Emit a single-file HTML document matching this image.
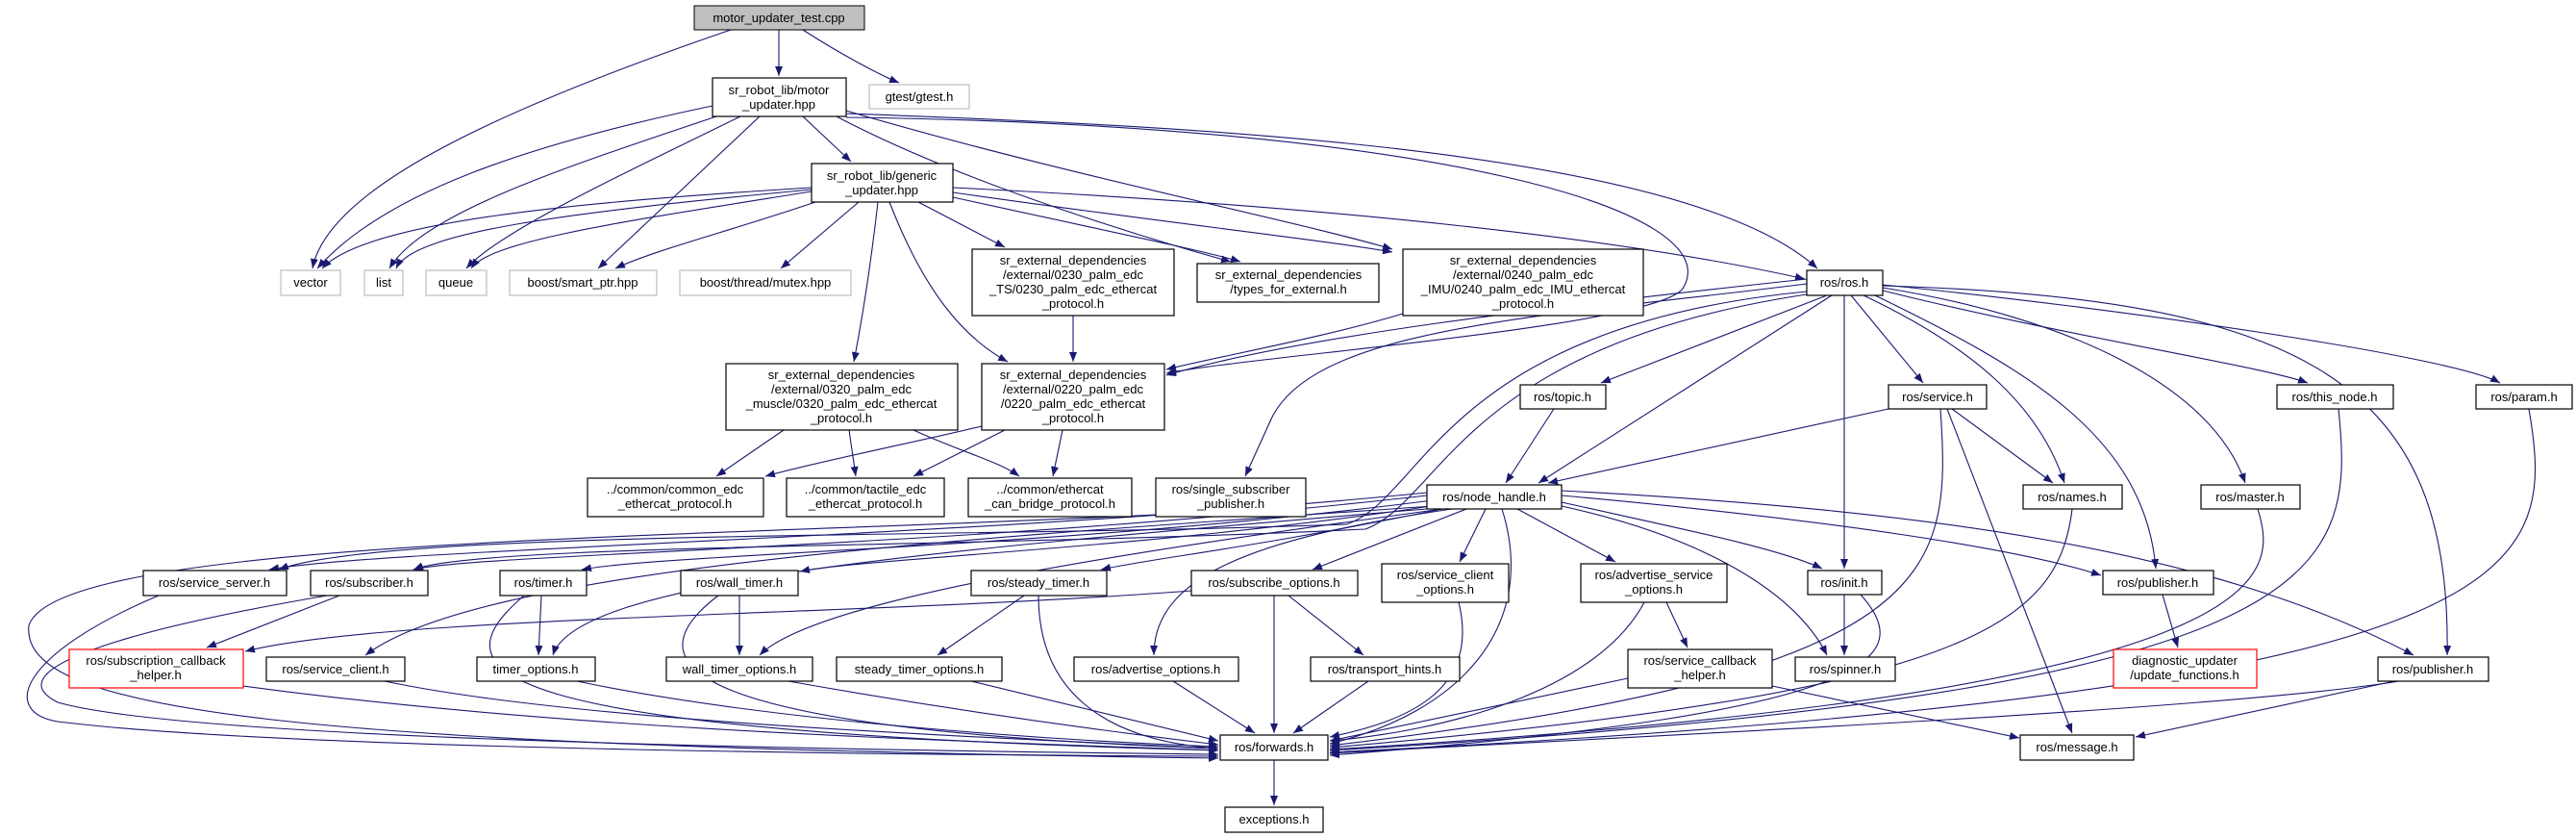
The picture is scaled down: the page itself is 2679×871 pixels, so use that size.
<!DOCTYPE html>
<html><head><meta charset="utf-8"><style>
html,body{margin:0;padding:0;background:#fff;}
svg{display:block;}
text{font-family:"Liberation Sans",sans-serif;font-size:13px;fill:#000;}
.n{fill:#fff;stroke:#000;stroke-width:1.2;}
.g{fill:#fff;stroke:#bfbfbf;stroke-width:1.2;}
.r{fill:#fff;stroke:#ff0000;stroke-width:1.2;}
.e{fill:none;stroke:#191970;stroke-width:1.1;marker-end:url(#a);}
</style></head><body>
<svg width="2679" height="871" viewBox="0 0 2679 871" xmlns="http://www.w3.org/2000/svg">
<defs><marker id="a" markerUnits="userSpaceOnUse" markerWidth="11" markerHeight="8" refX="10" refY="4" orient="auto"><path d="M0,0 L10,4 L0,8 z" fill="#191970"/></marker></defs>
<g>
<path class="e" d="M760 31 C500 120,340 200,325 279"/>
<path class="e" d="M810 31 L810 79"/>
<path class="e" d="M835 31 C880 60,920 80,935 86"/>
<path class="e" d="M741 110 C550 150,400 200,330 279"/>
<path class="e" d="M748 120 C600 170,440 220,405 279"/>
<path class="e" d="M770 121 C650 180,520 240,485 279"/>
<path class="e" d="M790 121 L622 279"/>
<path class="e" d="M835 121 L885 168"/>
<path class="e" d="M870 121 C1000 190,1200 250,1280 272"/>
<path class="e" d="M880 115 C1100 180,1350 230,1448 259"/>
<path class="e" d="M880 118 C1200 130,1750 150,1890 279"/>
<path class="e" d="M880 122 C1500 130,1800 220,1750 300 C1720 340,1300 370,1213 388"/>
<path class="e" d="M844 195 C600 210,380 230,335 279"/>
<path class="e" d="M844 197 C600 220,430 240,412 279"/>
<path class="e" d="M844 199 C650 230,510 250,490 279"/>
<path class="e" d="M848 210 C760 240,680 260,640 279"/>
<path class="e" d="M893 210 L812 279"/>
<path class="e" d="M913 210 C905 280,895 340,888 376"/>
<path class="e" d="M925 210 C960 300,1000 350,1048 376"/>
<path class="e" d="M955 210 L1045 257"/>
<path class="e" d="M991 205 C1150 240,1250 260,1290 272"/>
<path class="e" d="M991 200 C1200 230,1380 250,1448 262"/>
<path class="e" d="M991 195 C1400 215,1700 250,1877 290"/>
<path class="e" d="M1116 328 L1116 376"/>
<path class="e" d="M1459 326 C1380 350,1270 370,1213 384"/>
<path class="e" d="M815 447 L745 495"/>
<path class="e" d="M883 447 L890 495"/>
<path class="e" d="M950 447 C1000 470,1040 480,1060 495"/>
<path class="e" d="M1021 443 C950 460,850 480,796 495"/>
<path class="e" d="M1045 447 L950 495"/>
<path class="e" d="M1105 447 L1095 495"/>
<path class="e" d="M1879 290 C1600 320,1350 350,1213 390"/>
<path class="e" d="M1879 295 C1600 330,1360 340,1320 440 L1295 495"/>
<path class="e" d="M1900 307 L1665 398"/>
<path class="e" d="M1905 307 L1600 502"/>
<path class="e" d="M1925 307 L2000 398"/>
<path class="e" d="M1938 307 C2050 360,2120 420,2147 502"/>
<path class="e" d="M1918 307 L1918 591"/>
<path class="e" d="M1950 307 C2100 380,2230 450,2242 591"/>
<path class="e" d="M1958 299 C2150 330,2300 400,2335 502"/>
<path class="e" d="M1958 302 C2150 350,2350 380,2400 398"/>
<path class="e" d="M1958 296 C2200 320,2550 370,2600 398"/>
<path class="e" d="M1958 297 C2400 310,2550 400,2545 681"/>
<path class="e" d="M1879 303 C1500 340,1480 520,1400 545 C1000 560,400 550,290 592"/>
<path class="e" d="M1879 306 C1520 360,1500 520,1420 550 C1000 570,500 565,430 592"/>
<path class="e" d="M1616 425 L1566 502"/>
<path class="e" d="M1964 425 L1610 502"/>
<path class="e" d="M2030 425 L2135 502"/>
<path class="e" d="M2018 425 C2030 600,2020 700,1383 775"/>
<path class="e" d="M2025 425 L2155 762"/>
<path class="e" d="M2155 529 C2140 650,2050 720,1383 777"/>
<path class="e" d="M2348 529 C2370 600,2380 720,1383 779"/>
<path class="e" d="M2432 425 C2450 600,2430 720,1383 780"/>
<path class="e" d="M2630 425 C2660 600,2640 720,1383 782"/>
<path class="e" d="M2249 618 L2265 673"/>
<path class="e" d="M2495 708 C2300 740,1600 770,1383 783"/>
<path class="e" d="M2490 708 L2221 766"/>
<path class="e" d="M1693 705 L1383 770"/>
<path class="e" d="M1843 713 L2100 767"/>
<path class="e" d="M1918 618 L1918 681"/>
<path class="e" d="M1935 618 C1990 680,1970 740,1383 785"/>
<path class="e" d="M1484 512 C1000 560,400 570,280 592"/>
<path class="e" d="M1484 515 C1000 570,500 575,430 592"/>
<path class="e" d="M1490 520 C1100 570,700 575,605 592"/>
<path class="e" d="M1495 525 C1200 570,900 580,832 594"/>
<path class="e" d="M1500 529 C1300 570,1200 580,1145 592"/>
<path class="e" d="M1525 529 L1365 592"/>
<path class="e" d="M1545 529 L1518 584"/>
<path class="e" d="M1578 529 L1680 584"/>
<path class="e" d="M1562 529 C1600 650,1520 740,1383 773"/>
<path class="e" d="M1624 522 C1750 550,1850 570,1895 591"/>
<path class="e" d="M1624 526 C1780 560,1870 620,1900 681"/>
<path class="e" d="M1624 515 C1900 540,2100 570,2185 598"/>
<path class="e" d="M1624 510 C2000 530,2300 570,2510 681"/>
<path class="e" d="M1490 526 C1000 560,500 590,380 681"/>
<path class="e" d="M1495 528 C1000 570,600 600,575 681"/>
<path class="e" d="M1500 529 C1200 570,850 620,790 681"/>
<path class="e" d="M1510 529 C1300 560,1200 600,1200 681"/>
<path class="e" d="M1239 614 C900 640,400 640,255 677"/>
<path class="e" d="M1325 619 L1325 762"/>
<path class="e" d="M1340 619 L1418 681"/>
<path class="e" d="M353 619 L215 673"/>
<path class="e" d="M340 619 C100 660,0 700,60 730 C200 770,900 780,1267 784"/>
<path class="e" d="M165 619 C20 680,0 740,60 750 C300 780,1000 785,1267 786"/>
<path class="e" d="M1202 535 C700 560,60 560,30 650 C20 740,300 775,1267 788"/>
<path class="e" d="M545 619 C450 700,500 760,1267 780"/>
<path class="e" d="M563 619 L560 681"/>
<path class="e" d="M769 619 L769 681"/>
<path class="e" d="M747 619 C640 700,750 760,1267 778"/>
<path class="e" d="M1065 619 L975 681"/>
<path class="e" d="M1080 619 C1080 720,1150 770,1267 778"/>
<path class="e" d="M253 713 C600 760,1000 770,1267 780"/>
<path class="e" d="M400 708 C600 750,1000 765,1267 778"/>
<path class="e" d="M600 708 C800 750,1100 770,1267 776"/>
<path class="e" d="M820 708 C1000 740,1150 760,1267 774"/>
<path class="e" d="M1010 708 L1267 770"/>
<path class="e" d="M1220 708 L1305 762"/>
<path class="e" d="M1423 708 L1345 762"/>
<path class="e" d="M1517 626 C1540 720,1460 750,1383 766"/>
<path class="e" d="M1710 626 C1660 720,1500 760,1383 770"/>
<path class="e" d="M1733 626 L1755 673"/>
<path class="e" d="M1325 790 L1325 837"/>
</g>
<g text-anchor="middle">
<rect x="722" y="6" width="177" height="25" fill="#bfbfbf" stroke="#000"/><text x="810" y="23">motor_updater_test.cpp</text>
<rect class="n" x="741" y="81" width="139" height="40"/><text x="810" y="98">sr_robot_lib/motor</text><text x="810" y="113">_updater.hpp</text>
<rect class="g" x="904" y="88" width="104" height="25"/><text x="956" y="105">gtest/gtest.h</text>
<rect class="n" x="844" y="170" width="147" height="40"/><text x="917" y="187">sr_robot_lib/generic</text><text x="917" y="202">_updater.hpp</text>
<rect class="g" x="292" y="281" width="62" height="26"/><text x="323" y="298">vector</text>
<rect class="g" x="379" y="281" width="40" height="26"/><text x="399" y="298">list</text>
<rect class="g" x="443" y="281" width="63" height="26"/><text x="474" y="298">queue</text>
<rect class="g" x="530" y="281" width="153" height="26"/><text x="606" y="298">boost/smart_ptr.hpp</text>
<rect class="g" x="707" y="281" width="178" height="26"/><text x="796" y="298">boost/thread/mutex.hpp</text>
<rect class="n" x="1011" y="259" width="210" height="69"/><text x="1116" y="275">sr_external_dependencies</text><text x="1116" y="290">/external/0230_palm_edc</text><text x="1116" y="305">_TS/0230_palm_edc_ethercat</text><text x="1116" y="320">_protocol.h</text>
<rect class="n" x="1245" y="274" width="189" height="40"/><text x="1340" y="290">sr_external_dependencies</text><text x="1340" y="305">/types_for_external.h</text>
<rect class="n" x="1459" y="259" width="250" height="69"/><text x="1584" y="275">sr_external_dependencies</text><text x="1584" y="290">/external/0240_palm_edc</text><text x="1584" y="305">_IMU/0240_palm_edc_IMU_ethercat</text><text x="1584" y="320">_protocol.h</text>
<rect class="n" x="1879" y="281" width="79" height="26"/><text x="1918" y="298">ros/ros.h</text>
<rect class="n" x="755" y="378" width="241" height="69"/><text x="875" y="394">sr_external_dependencies</text><text x="875" y="409">/external/0320_palm_edc</text><text x="875" y="424">_muscle/0320_palm_edc_ethercat</text><text x="875" y="439">_protocol.h</text>
<rect class="n" x="1021" y="378" width="190" height="69"/><text x="1116" y="394">sr_external_dependencies</text><text x="1116" y="409">/external/0220_palm_edc</text><text x="1116" y="424">/0220_palm_edc_ethercat</text><text x="1116" y="439">_protocol.h</text>
<rect class="n" x="1581" y="400" width="89" height="25"/><text x="1625" y="417">ros/topic.h</text>
<rect class="n" x="1964" y="400" width="102" height="25"/><text x="2015" y="417">ros/service.h</text>
<rect class="n" x="2368" y="400" width="121" height="25"/><text x="2428" y="417">ros/this_node.h</text>
<rect class="n" x="2575" y="400" width="100" height="25"/><text x="2625" y="417">ros/param.h</text>
<rect class="n" x="611" y="497" width="183" height="40"/><text x="702" y="513">../common/common_edc</text><text x="702" y="528">_ethercat_protocol.h</text>
<rect class="n" x="818" y="497" width="164" height="40"/><text x="900" y="513">../common/tactile_edc</text><text x="900" y="528">_ethercat_protocol.h</text>
<rect class="n" x="1007" y="497" width="170" height="40"/><text x="1092" y="513">../common/ethercat</text><text x="1092" y="528">_can_bridge_protocol.h</text>
<rect class="n" x="1202" y="497" width="156" height="40"/><text x="1280" y="513">ros/single_subscriber</text><text x="1280" y="528">_publisher.h</text>
<rect class="n" x="1484" y="504" width="140" height="25"/><text x="1554" y="521">ros/node_handle.h</text>
<rect class="n" x="2104" y="504" width="103" height="25"/><text x="2155" y="521">ros/names.h</text>
<rect class="n" x="2289" y="504" width="103" height="25"/><text x="2340" y="521">ros/master.h</text>
<rect class="n" x="149" y="593" width="149" height="26"/><text x="223" y="610">ros/service_server.h</text>
<rect class="n" x="323" y="593" width="122" height="26"/><text x="384" y="610">ros/subscriber.h</text>
<rect class="n" x="520" y="593" width="90" height="26"/><text x="565" y="610">ros/timer.h</text>
<rect class="n" x="708" y="593" width="122" height="26"/><text x="769" y="610">ros/wall_timer.h</text>
<rect class="n" x="1010" y="593" width="141" height="26"/><text x="1080" y="610">ros/steady_timer.h</text>
<rect class="n" x="1239" y="593" width="173" height="26"/><text x="1325" y="610">ros/subscribe_options.h</text>
<rect class="n" x="1437" y="586" width="132" height="40"/><text x="1503" y="602">ros/service_client</text><text x="1503" y="617">_options.h</text>
<rect class="n" x="1644" y="586" width="152" height="40"/><text x="1720" y="602">ros/advertise_service</text><text x="1720" y="617">_options.h</text>
<rect class="n" x="1880" y="593" width="77" height="25"/><text x="1918" y="610">ros/init.h</text>
<rect class="n" x="2187" y="593" width="115" height="25"/><text x="2244" y="610">ros/publisher.h</text>
<rect class="r" x="72" y="675" width="181" height="40"/><text x="162" y="691">ros/subscription_callback</text><text x="162" y="706">_helper.h</text>
<rect class="n" x="277" y="683" width="144" height="25"/><text x="349" y="700">ros/service_client.h</text>
<rect class="n" x="496" y="683" width="123" height="25"/><text x="557" y="700">timer_options.h</text>
<rect class="n" x="693" y="683" width="152" height="25"/><text x="769" y="700">wall_timer_options.h</text>
<rect class="n" x="870" y="683" width="172" height="25"/><text x="956" y="700">steady_timer_options.h</text>
<rect class="n" x="1117" y="683" width="171" height="25"/><text x="1202" y="700">ros/advertise_options.h</text>
<rect class="n" x="1363" y="683" width="155" height="25"/><text x="1440" y="700">ros/transport_hints.h</text>
<rect class="n" x="1693" y="675" width="150" height="40"/><text x="1768" y="691">ros/service_callback</text><text x="1768" y="706">_helper.h</text>
<rect class="n" x="1867" y="683" width="104" height="25"/><text x="1919" y="700">ros/spinner.h</text>
<rect class="r" x="2198" y="675" width="149" height="40"/><text x="2272" y="691">diagnostic_updater</text><text x="2272" y="706">/update_functions.h</text>
<rect class="n" x="2473" y="683" width="115" height="25"/><text x="2530" y="700">ros/publisher.h</text>
<rect class="n" x="1269" y="764" width="112" height="26"/><text x="1325" y="781">ros/forwards.h</text>
<rect class="n" x="2101" y="764" width="118" height="26"/><text x="2160" y="781">ros/message.h</text>
<rect class="n" x="1274" y="839" width="102" height="26"/><text x="1325" y="856">exceptions.h</text>
</g>
</svg>
</body></html>
